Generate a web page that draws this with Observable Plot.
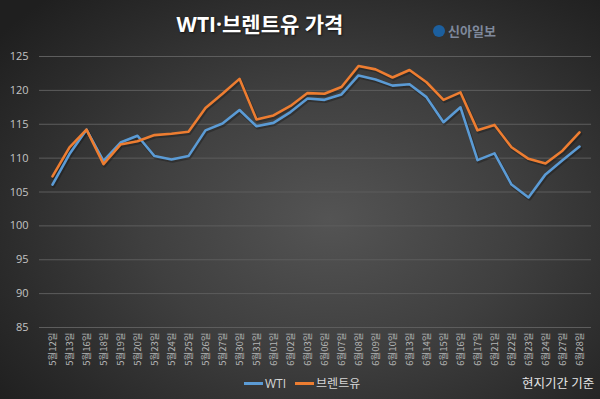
<!DOCTYPE html>
<html><head><meta charset="utf-8">
<script src="https://cdn.jsdelivr.net/npm/d3@7"></script>
<script src="https://cdn.jsdelivr.net/npm/@observablehq/plot@0.6"></script>
<style>
body{margin:0;background:#222;}
#wrap{position:relative;width:600px;height:399px;overflow:hidden;
 background:radial-gradient(ellipse 70% 75% at 55% 55%, #545454 0%, #3f3f3f 45%, #2a2a2a 80%, #1f1f1f 100%);
 font-family:"Open Sans","Noto Sans CJK KR",sans-serif;}
#title{position:absolute;left:160px;width:200px;top:8px;text-align:center;color:#fff;font-size:21px;font-weight:bold;text-shadow:1px 1px 2px rgba(0,0,0,.6);white-space:nowrap;}
#logo{position:absolute;left:433px;top:21px;color:#7f899c;font-size:13px;font-weight:bold;display:flex;align-items:center;gap:3px;font-family:"Noto Sans CJK KR",sans-serif;}
#logo .dot{display:inline-block;width:12px;height:12px;border-radius:50%;background:#1c5f9e;}
#chart{position:absolute;left:0;top:40px;}
#legend{position:absolute;left:244px;top:374px;color:#d6d6d6;font-size:12px;display:flex;align-items:center;}
#legend .sw{display:inline-block;width:19px;height:3px;margin-right:2px;}
#legend .item{display:flex;align-items:center;margin-right:9px;}
#note{position:absolute;left:522px;top:373px;color:#e6e6e6;font-size:12.5px;}
</style></head><body>
<div id="wrap">
<div id="title">WTI·브렌트유 가격</div>
<div id="logo"><span class="dot"></span>신아일보</div>
<div id="chart"></div>
<div id="legend"></div>
<div id="note">현지기간 기준</div>
</div>
<script>
const dates = ["5월12일","5월13일","5월16일","5월18일","5월19일","5월20일","5월23일","5월24일","5월25일","5월26일","5월27일","5월30일","5월31일","6월01일","6월02일","6월03일","6월06일","6월07일","6월08일","6월09일","6월10일","6월13일","6월14일","6월15일","6월16일","6월17일","6월21일","6월22일","6월23일","6월24일","6월27일","6월28일"];
const wti = [106.1,110.6,114.2,109.6,112.3,113.3,110.3,109.8,110.3,114.1,115.1,117.1,114.7,115.2,116.8,118.8,118.6,119.4,122.2,121.6,120.7,120.9,119.0,115.3,117.5,109.7,110.7,106.1,104.2,107.6,109.7,111.7];
const brent = [107.3,111.6,114.2,109.1,112.0,112.5,113.4,113.6,113.9,117.4,119.5,121.7,115.7,116.3,117.7,119.6,119.5,120.5,123.6,123.1,121.9,123.0,121.2,118.6,119.7,114.1,114.9,111.6,109.9,109.2,111.1,113.8];
const seriesNames = ["WTI","브렌트유"];
const seriesColors = ["#5b9bd5","#ed7d31"];
const yTicks = [85,90,95,100,105,110,115,120,125];

const data = dates.flatMap((d,i)=>[
  {date:d, value:wti[i], series:seriesNames[0]},
  {date:d, value:brent[i], series:seriesNames[1]}
]);

const chart = Plot.plot({
  width:600, height:332,
  marginTop:16, marginBottom:45, marginLeft:39, marginRight:9,
  style:{background:"transparent", color:"#c4c4c4", fontFamily:"'Open Sans','Noto Sans CJK KR',sans-serif"},
  x:{type:"point", domain:dates, padding:0.5, label:null},
  y:{domain:[85,125], label:null},
  color:{domain:seriesNames, range:seriesColors},
  marks:[
    Plot.ruleY(yTicks,{stroke:"#5d5d5d", strokeWidth:1}),
    Plot.axisY({ticks:yTicks, tickSize:0, tickPadding:11, fontSize:11, fill:"#c4c4c4", label:null}),
    Plot.axisX({tickSize:0, tickPadding:5, tickRotate:-90, fontSize:9.5, fill:"#b4b4b4", label:null, fontFamily:"'Noto Sans CJK KR',sans-serif"}),
    Plot.line(data,{x:"date", y:"value", z:"series", stroke:"#111", strokeOpacity:0.35, strokeWidth:3.5, dx:1, dy:1.5}),
    Plot.line(data,{x:"date", y:"value", stroke:"series", strokeWidth:2.6})
  ]
});
document.getElementById("chart").appendChild(chart);

const leg = document.getElementById("legend");
seriesNames.forEach((n,i)=>{
  const it = document.createElement("span");
  it.className="item";
  it.innerHTML = `<span class="sw" style="background:${seriesColors[i]}"></span>${n}`;
  leg.appendChild(it);
});
</script>
</body></html>
